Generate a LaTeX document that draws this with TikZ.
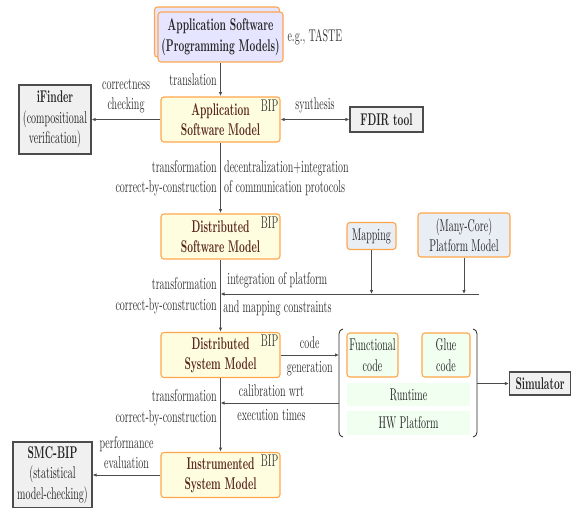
\documentclass[tikz,border=0pt]{standalone}
\usetikzlibrary{arrows.meta}
\definecolor{modeltext}{RGB}{90,40,30}
\definecolor{platfill}{RGB}{233,238,245}

\begin{document}
\begin{tikzpicture}[x=1pt,y=-1pt,>={Latex[length=4pt,width=3.5pt]},
    every node/.append style={yscale=1.7},
    modelbox/.style={draw=orange!70, line width=1.1pt, rounded corners=3pt, fill=yellow!12,
        font=\bfseries, text=modeltext, align=center, inner sep=2pt,
        minimum width=119pt, minimum height=26.5pt},
    appbox/.style={draw=orange!70, line width=1.1pt, rounded corners=3pt, fill=blue!10,
        font=\bfseries, text=black!85, align=center, inner sep=2pt,
        minimum width=125pt, minimum height=29.4pt},
    pfbox/.style={draw=orange!70, line width=1.1pt, rounded corners=3pt, fill=platfill,
        text=black!85, align=center, inner sep=2pt},
    codebox/.style={draw=orange!70, line width=1.1pt, rounded corners=3pt, fill=green!6,
        text=black!85, align=center, inner sep=2pt, minimum height=25.9pt},
    layerbox/.style={fill=green!6, text=black!85, minimum width=123pt, minimum height=13.5pt},
    toolbox/.style={draw=black!70, line width=1.2pt, fill=black!6, text=black!85,
        align=center, inner sep=2pt},
    lbl/.style={text=black!80},
    biplbl/.style={text=black!75, inner sep=2pt},
    conn/.style={draw=black!70, line width=0.8pt}]
    \useasboundingbox (0,0) rectangle (571,508);

    \node[appbox] (ASB) at (217,32) {};
    \node[appbox] (AS) at (220.5,37) {Application Software\\(Programming Models)};
    \node[lbl, anchor=west] (EG) at (284,37) {e.g., TASTE};
    \node[modelbox] (ASM) at (220.5,119.5) {Application\\Software Model};
    \node[biplbl, anchor=north east] (ASMbip) at (ASM.north east) {BIP};
    \node[toolbox, minimum width=72pt, minimum height=40.6pt] (IF) at (55,119.5) {\textbf{iFinder}\\(compositional\\verification)};
    \node[toolbox, font=\bfseries, minimum width=73pt, minimum height=14.7pt] (FDIR) at (386.5,119.5) {FDIR tool};
    \node[modelbox] (DSM) at (220.5,236.5) {Distributed\\Software Model};
    \node[biplbl, anchor=north east] (DSMbip) at (DSM.north east) {BIP};
    \node[pfbox, minimum width=49pt, minimum height=15.9pt] (MAP) at (371.5,236) {Mapping};
    \node[pfbox, minimum width=92pt, minimum height=25.9pt] (PLAT) at (464,235) {(Many-Core)\\Platform Model};
    \node[modelbox] (DSysM) at (220.5,355) {Distributed\\System Model};
    \node[biplbl, anchor=north east] (DSysMbip) at (DSysM.north east) {BIP};
    \node[codebox, minimum width=51pt] (FC) at (372.5,355) {Functional\\code};
    \node[codebox, minimum width=48pt] (GC) at (446,355) {Glue\\code};
    \node[layerbox] (RT) at (408.5,394.5) {Runtime};
    \node[layerbox] (HW) at (408.5,423) {HW Platform};
    \node[toolbox, font=\bfseries, minimum width=61pt, minimum height=13.5pt] (SIM) at (540,383.5) {Simulator};
    \node[modelbox] (ISM) at (220.5,475) {Instrumented\\System Model};
    \node[biplbl, anchor=north east] (ISMbip) at (ISM.north east) {BIP};
    \node[toolbox, minimum width=79pt, minimum height=38.8pt] (SMC) at (52.5,475) {\textbf{SMC-BIP}\\(statistical\\model-checking)};

    \coordinate (INTR) at (479,294);
    \coordinate (BLc) at (339,355);
    \coordinate (BLb) at (339,403);
    \coordinate (BRs) at (477,383.5);

    % brackets round the generated code
    \draw[conn, draw=black!85] (343,329) to[out=180,in=90] (339,334) -- (339,432) to[out=-90,in=180] (343,437);
    \draw[conn, draw=black!85] (473,329) to[out=0,in=90] (477,334) -- (477,432) to[out=-90,in=0] (473,437);

    \draw[conn,->] (AS) -- node[lbl,left] {translation} (ASM);
    \draw[conn,->] (ASM) -- node[lbl,above,align=center] {correctness\\checking} (IF);
    \draw[conn,<->] (ASM) -- node[lbl,above] {synthesis} (FDIR);
    \draw[conn,->] (ASM) -- node[lbl,left,align=right] {transformation\\correct-by-construction}
        node[lbl,right,align=left] {decentralization+integration\\of communication protocols} (DSM);
    \draw[conn,->] (DSM) -- node[lbl,left,align=right] {transformation\\correct-by-construction} (DSysM);
    \draw[conn,->] (INTR) -- node[lbl,above,pos=0.78] {integration of platform}
        node[lbl,below,pos=0.78] {and mapping constraints} (DSM.south |- INTR);
    \draw[conn,->] (MAP) -- (MAP |- INTR);
    \draw[conn,->] (PLAT) -- (PLAT |- INTR);
    \draw[conn,->] (DSysM) -- node[lbl,above] {code} node[lbl,below] {generation} (BLc);
    \draw[conn,->] (BLb) -- node[lbl,above,pos=0.57] {calibration wrt}
        node[lbl,below,pos=0.57] {execution times} (DSysM.south |- BLb);
    \draw[conn,->] (DSysM) -- node[lbl,left,align=right,pos=0.4] {transformation\\correct-by-construction} (ISM);
    \draw[conn,->] (ISM) -- node[lbl,above,align=center] {performance\\evaluation} (SMC);
    \draw[conn,->] (BRs) -- (SIM);
\end{tikzpicture}
\end{document}
